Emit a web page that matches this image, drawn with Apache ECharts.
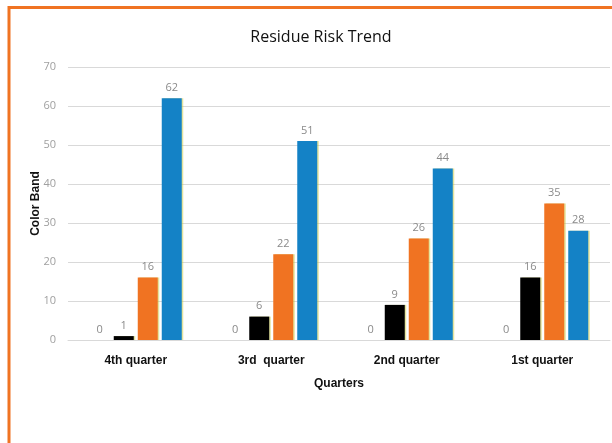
<!DOCTYPE html>
<html>
<head>
<meta charset="utf-8">
<script src="https://cdn.jsdelivr.net/npm/echarts@6/dist/echarts.min.js"></script>
<style>
html,body{margin:0;padding:0;background:#fff;}
#c{width:612px;height:443px;}
</style>
</head>
<body>
<div id="c"></div>
<script>
var categories = ['4th quarter', '3rd  quarter', '2nd quarter', '1st quarter'];
var seriesZero = [0, 0, 0, 0];
var seriesBlack = [1, 6, 9, 16];
var seriesOrange = [16, 22, 26, 35];
var seriesBlue = [62, 51, 44, 28];
var yTicks = [0, 10, 20, 30, 40, 50, 60, 70];

var chart = echarts.init(document.getElementById('c'));
var lbl = { show: true, position: 'top', color: '#8a8a8a', fontSize: 11, fontFamily: 'Open Sans', distance: 5 };
function bar(name, data, color) {
  return {
    name: name, type: 'bar', data: data, barWidth: 20, barGap: '20%',
    itemStyle: { color: color, shadowColor: 'rgba(200,200,60,0.5)', shadowOffsetX: 1.5, shadowOffsetY: 0, shadowBlur: 0 },
    label: lbl
  };
}
chart.setOption({
  animation: false,
  backgroundColor: '#fff',
  title: {
    text: 'Residue Risk Trend', left: 316, top: 24, textAlign: 'center',
    textStyle: { fontSize: 16, fontWeight: 500, color: '#111', fontFamily: 'Open Sans' }
  },
  graphic: [{
    type: 'rect', shape: { x: 9, y: 7.5, width: 700, height: 500 },
    style: { fill: 'none', stroke: '#F07322', lineWidth: 3 }, silent: true
  }],
  grid: { left: 68, right: 2, top: 67, bottom: 103 },
  xAxis: {
    type: 'category', data: categories,
    name: 'Quarters', nameLocation: 'middle', nameGap: 38,
    nameTextStyle: { fontSize: 12, fontWeight: 'bold', color: '#111', fontFamily: 'Liberation Sans' },
    axisLine: { show: true, lineStyle: { color: '#d9d9d9', width: 1 } },
    axisTick: { show: false },
    axisLabel: { fontSize: 12, fontWeight: 'bold', color: '#111', fontFamily: 'Liberation Sans', margin: 15 }
  },
  yAxis: {
    type: 'value', min: yTicks[0], max: yTicks[yTicks.length - 1], interval: 10,
    name: 'Color Band', nameLocation: 'middle', nameGap: 26, nameMoveOverlap: false,
    nameTextStyle: { fontSize: 12, fontWeight: 'bold', color: '#111', fontFamily: 'Liberation Sans' },
    axisLine: { show: false }, axisTick: { show: false },
    axisLabel: { fontSize: 11, color: '#a0a0a0', fontFamily: 'Open Sans', margin: 12 },
    splitLine: { lineStyle: { color: '#d9d9d9', width: 1 } }
  },
  series: [
    bar('Zero', seriesZero, '#a5a5a5'),
    bar('Black', seriesBlack, '#000000'),
    bar('Orange', seriesOrange, '#F07322'),
    bar('Blue', seriesBlue, '#1482C6')
  ]
});
</script>
</body>
</html>
